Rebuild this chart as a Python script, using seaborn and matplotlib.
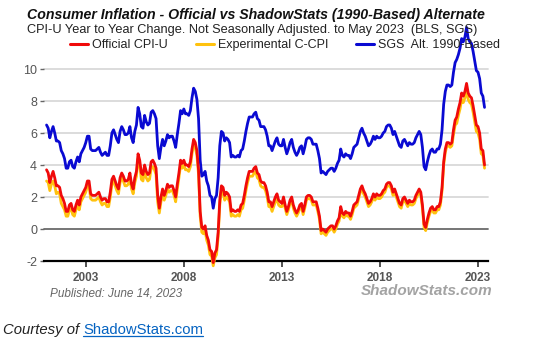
import numpy as np
import pandas as pd
import matplotlib
matplotlib.use("Agg")
import matplotlib.pyplot as plt
from matplotlib.lines import Line2D
import seaborn as sns

sns.set_theme(style="white")
plt.rcParams["font.family"] = ["Liberation Sans", "DejaVu Sans"]

# Monthly year-over-year change (%), Jan 2001 .. May 2023
official_cpi_u = [
    3.7, 3.5, 2.9, 3.3, 3.6, 3.2, 2.7, 2.7, 2.6, 2.1, 1.9, 1.6,    # 2001
    1.1, 1.1, 1.5, 1.6, 1.2, 1.1, 1.5, 1.8, 1.5, 2.0, 2.2, 2.4,    # 2002
    2.6, 3.0, 3.0, 2.2, 2.1, 2.1, 2.1, 2.2, 2.3, 2.0, 1.8, 1.9,    # 2003
    1.9, 1.7, 1.7, 2.3, 3.1, 3.3, 3.0, 2.7, 2.5, 3.2, 3.5, 3.3,    # 2004
    3.0, 3.0, 3.1, 3.5, 2.8, 2.5, 3.2, 3.6, 4.7, 4.3, 3.5, 3.4,    # 2005
    4.0, 3.6, 3.4, 3.5, 4.2, 4.3, 4.1, 3.8, 2.1, 1.3, 2.0, 2.5,    # 2006
    2.1, 2.4, 2.8, 2.6, 2.7, 2.7, 2.4, 2.0, 2.8, 3.5, 4.3, 4.1,    # 2007
    4.3, 4.0, 4.0, 3.9, 4.2, 5.0, 5.6, 5.4, 4.9, 3.7, 1.1, 0.1,    # 2008
    0.0, 0.2, -0.4, -0.7, -1.3, -1.4, -2.1, -1.5, -1.3, -0.2, 1.8, 2.7,  # 2009
    2.6, 2.1, 2.3, 2.2, 2.0, 1.1, 1.2, 1.1, 1.1, 1.2, 1.1, 1.5,    # 2010
    1.6, 2.1, 2.7, 3.2, 3.6, 3.6, 3.6, 3.8, 3.9, 3.5, 3.4, 3.0,    # 2011
    2.9, 2.9, 2.7, 2.3, 1.7, 1.7, 1.4, 1.7, 2.0, 2.2, 1.8, 1.7,    # 2012
    1.6, 2.0, 1.5, 1.1, 1.4, 1.8, 2.0, 1.5, 1.2, 1.0, 1.2, 1.5,    # 2013
    1.6, 1.1, 1.5, 2.0, 2.1, 2.1, 2.0, 1.7, 1.7, 1.7, 1.3, 0.8,    # 2014
    -0.1, 0.0, -0.1, -0.2, 0.0, 0.1, 0.2, 0.2, 0.0, 0.2, 0.5, 0.7,  # 2015
    1.4, 1.0, 0.9, 1.1, 1.0, 1.0, 0.8, 1.1, 1.5, 1.6, 1.7, 2.1,    # 2016
    2.5, 2.7, 2.4, 2.2, 1.9, 1.6, 1.7, 1.9, 2.2, 2.0, 2.2, 2.1,    # 2017
    2.1, 2.2, 2.4, 2.5, 2.8, 2.9, 2.9, 2.7, 2.3, 2.5, 2.2, 1.9,    # 2018
    1.6, 1.5, 1.9, 2.0, 1.8, 1.6, 1.8, 1.7, 1.7, 1.8, 2.1, 2.3,    # 2019
    2.5, 2.3, 1.5, 0.3, 0.1, 0.6, 1.0, 1.3, 1.4, 1.2, 1.2, 1.4,    # 2020
    1.4, 1.7, 2.6, 4.2, 5.0, 5.4, 5.4, 5.3, 5.4, 6.2, 6.8, 7.0,    # 2021
    7.5, 7.9, 8.5, 8.3, 8.6, 9.1, 8.5, 8.3, 8.2, 7.7, 7.1, 6.5,    # 2022
    6.4, 6.0, 5.0, 4.9, 4.0,                                       # 2023
]

experimental_c_cpi = [
    3.0, 2.9, 2.4, 2.8, 3.0, 2.7, 2.2, 2.3, 2.2, 1.6, 1.4, 1.2,
    0.8, 0.8, 1.2, 1.3, 0.9, 0.8, 1.2, 1.5, 1.2, 1.7, 1.9, 2.1,
    2.3, 2.7, 2.7, 1.9, 1.8, 1.8, 1.8, 1.9, 2.0, 1.7, 1.5, 1.6,
    1.6, 1.4, 1.4, 2.0, 2.8, 3.0, 2.7, 2.4, 2.2, 2.9, 3.2, 3.0,
    2.7, 2.7, 2.8, 3.2, 2.5, 2.2, 2.9, 3.3, 4.4, 4.0, 3.1, 3.0,
    3.7, 3.2, 3.0, 3.1, 3.8, 3.9, 3.7, 3.4, 1.7, 1.0, 1.7, 2.2,
    1.8, 2.1, 2.5, 2.3, 2.4, 2.4, 2.1, 1.7, 2.5, 3.2, 4.0, 3.8,
    4.0, 3.7, 3.7, 3.6, 3.9, 4.7, 5.3, 5.1, 4.6, 3.4, 0.8, -0.2,
    -0.3, -0.1, -0.7, -1.0, -1.6, -1.7, -2.3, -1.8, -1.6, -0.5, 1.5, 2.4,
    2.3, 1.8, 2.0, 1.9, 1.7, 0.8, 0.9, 0.8, 0.8, 0.9, 0.8, 1.2,
    1.3, 1.8, 2.4, 2.9, 3.3, 3.3, 3.3, 3.5, 3.6, 3.2, 3.1, 2.7,
    2.6, 2.6, 2.4, 2.0, 1.4, 1.4, 1.1, 1.4, 1.7, 1.9, 1.5, 1.4,
    1.4, 1.8, 1.3, 0.9, 1.2, 1.6, 1.8, 1.3, 1.0, 0.8, 1.0, 1.3,
    1.4, 0.9, 1.3, 1.8, 1.9, 1.9, 1.8, 1.5, 1.5, 1.5, 1.1, 0.6,
    -0.3, -0.2, -0.3, -0.4, -0.2, -0.1, 0.0, 0.0, -0.2, 0.0, 0.3, 0.5,
    1.2, 0.8, 0.7, 0.9, 0.8, 0.8, 0.6, 0.9, 1.3, 1.4, 1.5, 1.9,
    2.3, 2.5, 2.2, 2.0, 1.7, 1.4, 1.5, 1.7, 2.0, 1.8, 2.0, 1.9,
    1.9, 2.0, 2.2, 2.3, 2.6, 2.7, 2.7, 2.5, 2.1, 2.3, 2.0, 1.7,
    1.4, 1.3, 1.7, 1.8, 1.6, 1.4, 1.6, 1.5, 1.5, 1.6, 1.9, 2.1,
    2.3, 2.1, 1.3, 0.1, -0.1, 0.4, 0.8, 1.1, 1.2, 1.0, 1.0, 1.2,
    1.2, 1.5, 2.4, 4.0, 4.8, 5.2, 5.2, 5.1, 5.2, 5.9, 6.5, 6.6,
    7.1, 7.5, 8.1, 7.9, 8.2, 8.7, 8.1, 7.9, 7.8, 7.3, 6.7, 6.1,
    6.0, 5.6, 4.7, 4.6, 3.8,
]

sgs_alt_1990 = [
    6.5, 6.3, 5.7, 6.1, 6.4, 6.0, 5.5, 5.5, 5.4, 4.9, 4.7, 4.4,
    3.8, 3.8, 4.2, 4.3, 3.9, 3.8, 4.2, 4.5, 4.2, 4.7, 4.9, 5.1,
    5.4, 5.8, 5.8, 5.0, 4.9, 4.9, 4.9, 5.0, 5.1, 4.8, 4.6, 4.7,
    4.8, 4.6, 4.6, 5.2, 6.0, 6.2, 5.9, 5.6, 5.4, 6.1, 6.4, 6.2,
    5.9, 5.9, 6.0, 6.4, 5.7, 5.4, 6.1, 6.5, 7.6, 7.2, 6.4, 6.3,
    7.1, 6.7, 6.5, 6.6, 7.3, 7.4, 7.2, 6.9, 5.2, 4.4, 5.1, 5.6,
    5.2, 5.5, 5.9, 5.7, 5.8, 5.8, 5.5, 5.1, 5.9, 6.6, 7.4, 7.2,
    7.5, 7.2, 7.2, 7.1, 7.4, 8.2, 8.8, 8.6, 8.1, 6.9, 4.3, 3.3,
    3.4, 3.6, 3.0, 2.7, 2.1, 2.0, 1.3, 1.9, 2.1, 3.2, 5.2, 6.1,
    6.0, 5.5, 5.7, 5.6, 5.4, 4.5, 4.6, 4.5, 4.5, 4.6, 4.5, 4.9,
    5.0, 5.5, 6.1, 6.6, 7.0, 7.0, 7.0, 7.2, 7.3, 6.9, 6.8, 6.4,
    6.4, 6.4, 6.2, 5.8, 5.2, 5.2, 4.9, 5.2, 5.5, 5.7, 5.3, 5.2,
    5.2, 5.6, 5.1, 4.7, 5.0, 5.4, 5.6, 5.1, 4.8, 4.6, 4.8, 5.1,
    5.2, 4.7, 5.1, 5.6, 5.7, 5.7, 5.6, 5.3, 5.3, 5.3, 4.9, 4.4,
    3.5, 3.6, 3.5, 3.4, 3.6, 3.7, 3.8, 3.8, 3.6, 3.8, 4.1, 4.3,
    5.0, 4.6, 4.5, 4.7, 4.6, 4.6, 4.4, 4.7, 5.1, 5.2, 5.3, 5.7,
    6.1, 6.3, 6.0, 5.8, 5.5, 5.2, 5.3, 5.5, 5.8, 5.6, 5.8, 5.7,
    5.7, 5.8, 6.0, 6.1, 6.4, 6.5, 6.5, 6.3, 5.9, 6.1, 5.8, 5.5,
    5.2, 5.1, 5.5, 5.6, 5.4, 5.2, 5.4, 5.3, 5.3, 5.4, 5.7, 5.9,
    6.1, 5.9, 5.1, 3.9, 3.7, 4.2, 4.6, 4.9, 5.0, 4.8, 4.8, 5.0,
    5.0, 5.3, 6.2, 7.8, 8.6, 9.0, 9.0, 8.9, 9.0, 9.8, 10.4, 10.6,
    10.9, 11.3, 11.9, 11.7, 12.0, 12.6, 11.9, 11.7, 11.6, 11.1, 10.5, 9.9,
    9.8, 9.4, 8.5, 8.3, 7.6,
]

series_names = ["Official CPI-U", "Experimental C-CPI", "SGS  Alt. 1990-Based"]
series_colors = ["#f00a0a", "#ffc20e", "#0a0ad2"]
year_ticks = [2003, 2008, 2013, 2018, 2023]
y_ticks = [-2, 0, 2, 4, 6, 8, 10]

months = pd.date_range("2001-01-01", "2023-05-01", freq="MS")
decimal_year = months.year + (months.month - 1) / 12.0

frames = []
for name, vals in zip(series_names,
                      [official_cpi_u, experimental_c_cpi, sgs_alt_1990]):
    frames.append(pd.DataFrame({"year": decimal_year, "value": vals,
                                "series": name}))
df = pd.concat(frames, ignore_index=True)

fig = plt.figure(figsize=(5.54, 3.44), dpi=100)
ax = fig.add_axes([44 / 554, 1 - 261 / 344, 444 / 554, 192 / 344])

# grid and reference lines
for yv in [2, 4, 6, 8, 10]:
    ax.axhline(yv, color="#d9d9d9", lw=1.3, zorder=0)
ax.axhline(0, color="#6a6a6a", lw=1.3, zorder=1)

# blue first, then yellow, red on top
for idx in [2, 1, 0]:
    sub = df[df["series"] == series_names[idx]]
    sns.lineplot(data=sub, x="year", y="value", ax=ax,
                 color=series_colors[idx], lw=2.0, legend=False,
                 zorder=3 + (2 - idx))
for ln in ax.get_lines():
    ln.set_clip_on(False)

ax.set_xlim(2000.87, 2023.51)
ax.set_ylim(-2, 10)
ax.set_xlabel("")
ax.set_ylabel("")

for s in ["top", "right", "left"]:
    ax.spines[s].set_visible(False)
ax.spines["bottom"].set_color("black")
ax.spines["bottom"].set_linewidth(1.6)

ax.set_yticks(y_ticks)
ax.set_yticklabels([str(v) for v in y_ticks])
ax.set_xticks(year_ticks)
ax.set_xticklabels([str(v) for v in year_ticks])
ax.tick_params(axis="y", left=True, length=3, width=1, color="#666666",
               labelcolor="#555555", labelsize=9, pad=2)
ax.tick_params(axis="x", bottom=True, length=4, width=1.2, color="#333333",
               labelcolor="#555555", labelsize=8.5, pad=4)
for lbl in ax.get_xticklabels():
    lbl.set_fontweight("bold")
ax.grid(False)

# legend
handles = [Line2D([0], [0], color=c, lw=2.2) for c in series_colors]
fig.legend(handles, series_names, loc="center", ncol=3,
           bbox_to_anchor=(0.5145, 1 - 45 / 344), frameon=False,
           fontsize=9, handlelength=1.45, handletextpad=0.3,
           columnspacing=2.25, labelcolor="#222222")

# titles
fig.text(27 / 554, 1 - 15 / 344,
         "Consumer Inflation - Official vs ShadowStats (1990-Based) Alternate",
         fontsize=10.2, fontweight="bold", fontstyle="italic",
         color="#111111", va="center", ha="left")
fig.text(27 / 554, 1 - 30 / 344,
         "CPI-U Year to Year Change. Not Seasonally Adjusted. to May 2023  (BLS, SGS)",
         fontsize=9.2, color="#222222", va="center", ha="left")

fig.text(50 / 554, 1 - 293 / 344, "Published: June 14, 2023",
         fontsize=8.5, fontstyle="italic", color="#666666",
         va="center", ha="left")
fig.text(492 / 554, 1 - 291 / 344, "ShadowStats.com",
         fontsize=11, fontstyle="italic", fontweight="bold",
         color="#a3a3a3", va="center", ha="right")

# footer credit with underlined link text
t1 = fig.text(3 / 554, 1 - 330 / 344, "Courtesy of ",
              fontsize=10.7, fontstyle="italic", color="#222222",
              va="center", ha="left")
fig.canvas.draw()
r = fig.canvas.get_renderer()
bb = t1.get_window_extent(renderer=r)
x_link = bb.x1 / fig.bbox.width
t2 = fig.text(x_link, 1 - 330 / 344, "ShadowStats.com",
              fontsize=10.7, color="#0563c1", va="center", ha="left")
bb2 = t2.get_window_extent(renderer=r)
yline = (bb2.y0 + 1) / fig.bbox.height
fig.add_artist(Line2D([x_link, bb2.x1 / fig.bbox.width], [yline, yline],
                      color="#0563c1", lw=0.9, transform=fig.transFigure))

fig.savefig("out.png", dpi=100)
